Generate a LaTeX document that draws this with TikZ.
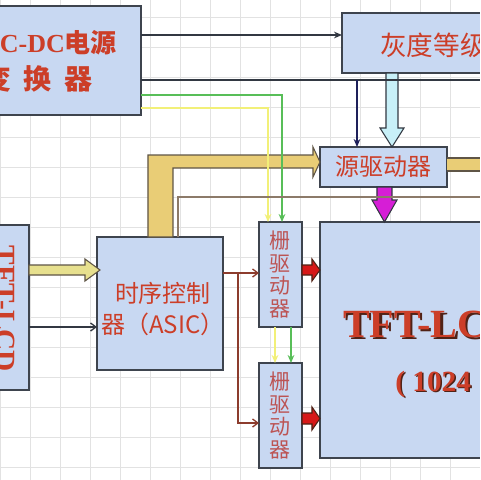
\documentclass[tikz,border=0pt]{standalone}
\usepackage{fontspec}
\setmainfont{Liberation Serif}
\newfontfamily\cjk{Noto Sans CJK SC}
\usepackage{tikz}
\usetikzlibrary{arrows.meta,calc}

\definecolor{boxfill}{RGB}{200,216,242}
\definecolor{boxline}{RGB}{62,68,78}
\definecolor{txtred}{RGB}{204,62,40}
\definecolor{gatered}{RGB}{188,84,84}
\definecolor{shade}{RGB}{80,34,22}
\definecolor{gridgray}{RGB}{226,226,226}
\definecolor{tanfill}{RGB}{233,205,118}
\definecolor{tanline}{RGB}{95,85,70}
\definecolor{khaki}{RGB}{231,224,142}
\definecolor{cyanfill}{RGB}{200,240,248}
\definecolor{magfill}{RGB}{214,30,214}
\definecolor{redfill}{RGB}{214,24,24}
\definecolor{pwrgreen}{RGB}{88,190,88}
\definecolor{pwryellow}{RGB}{242,240,120}
\definecolor{brnline}{RGB}{140,60,45}
\definecolor{busbrown}{RGB}{140,122,105}
\definecolor{navyln}{RGB}{30,32,90}
\definecolor{darkln}{RGB}{50,56,66}

\tikzset{
  blk/.style={draw=boxline,fill=boxfill,line width=1pt,inner sep=0pt,outer sep=0pt,anchor=north west},
  gridln/.style={draw=gridgray,line width=0.5pt},
  fatarrow/.style={line width=0.8pt,line join=miter},
  thinln/.style={line width=1pt},
  tip/.style={-{Stealth[length=6pt,width=5pt]}},
  barb/.style={-{Straight Barb[length=4pt,width=6pt]}}
}

\begin{document}
\begin{tikzpicture}[x=0.75pt,y=0.75pt,yscale=-1,xscale=1]
\useasboundingbox (0,0) rectangle (480,480);
\clip (0,0) rectangle (480,480);
%Background grid
\fill[white] (0,0) rectangle (480,480);
\foreach \gx in {0,30,...,480} \draw[gridln] (\gx,0) -- (\gx,480);
\foreach \gy in {17,47,...,467} \draw[gridln] (0,\gy) -- (480,\gy);

%Shape: Rectangle [power converter]
\node (acdc) [blk,minimum width=135.75pt,minimum height=81.75pt] at (-40,6) {};
%Shape: Rectangle [grey levels]
\node (grey) [blk,minimum width=163.5pt,minimum height=45pt] at (342,13) {};
%Shape: Rectangle [source driver]
\node (src) [blk,minimum width=95.25pt,minimum height=30pt] at (320,147) {};
%Shape: Rectangle [timing controller]
\node (tcon) [blk,minimum width=94.5pt,minimum height=99.75pt] at (97,237) {};
%Shape: Rectangle [input side]
\node (lcd) [blk,minimum width=51.75pt,minimum height=123.75pt] at (-40,225) {};
%Shape: Rectangle [gate drivers]
\node (gate1) [blk,minimum width=32.25pt,minimum height=78.75pt] at (259,222) {};
\node (gate2) [blk,minimum width=32.25pt,minimum height=78.75pt] at (259,363) {};
%Shape: Rectangle [panel]
\node (panel) [blk,minimum width=180pt,minimum height=177pt] at (320,222) {};

%Shape: Bent Arrow [tcon to source driver]
\filldraw[fatarrow,fill=tanfill,draw=tanline] (tcon.north -| 148,0) -- ++(0,-82) -- ++(165,0) -- ++(0,-8)
    -- (src.west |- 0,162) -- ++(-7,15) -- ++(0,-9) -- ++(-140,0) -- ++(0,69) -- cycle;
%Shape: Band [source driver out]
\coordinate (bandR) at (490,158);
\path[fatarrow,fill=tanfill,draw=tanline] (src.east |- 0,158) -- (bandR) -- ++(0,13) -- (src.east |- 0,171);
%Shape: Hollow Arrow [grey levels to source driver]
\filldraw[fatarrow,fill=cyanfill,draw=darkln] (grey.south -| 386,0) -- ++(0,55) -- ++(-6,0)
    -- (src.north -| 392,0) -- ++(12,-19) -- ++(-6,0) -- ++(0,-55) -- cycle;
%Shape: Arrow [source driver to panel]
\filldraw[fatarrow,fill=magfill,draw=darkln] (src.south -| 377,0) -- ++(0,13) -- ++(-5,0)
    -- (panel.north -| 384.5,0) -- ++(12.5,-22) -- ++(-5,0) -- ++(0,-13) -- cycle;
%Shape: Arrow [input to tcon]
\filldraw[fatarrow,fill=khaki,draw=tanline] (lcd.east |- 0,265) -- ++(56,0) -- ++(0,-6)
    -- ($(tcon.west |- 0,270)+(3,0)$) -- ++(-15,11) -- ++(0,-6) -- ++(-56,0) -- cycle;
%Shape: Arrows [gate drivers to panel]
\filldraw[fatarrow,fill=redfill,draw=shade] (gate1.east |- 0,265) -- ++(10,0) -- ++(0,-6)
    -- (panel.west |- 0,270) -- ++(-8,11) -- ++(0,-6) -- ++(-10,0) -- cycle;
\filldraw[fatarrow,fill=redfill,draw=shade] (gate2.east |- 0,413) -- ++(10,0) -- ++(0,-6)
    -- (panel.west |- 0,418.5) -- ++(-8,11.5) -- ++(0,-6) -- ++(-10,0) -- cycle;

%Straight Lines [power lines]
\draw[thinln,darkln,tip] (acdc.east |- 0,35) -- (grey.west |- 0,35);
\coordinate (busR) at (490,80);
\coordinate (tapS) at (357,80);
\draw[thinln,darkln] (acdc.east |- 0,80) -- (busR);
\draw[thinln,navyln,tip] (tapS) -- (src.north -| tapS);
\draw[thinln,pwrgreen,tip] (acdc.east |- 0,95) -| (gate1.north -| 282,0);
\draw[thinln,pwryellow,tip] (acdc.east |- 0,108) -| (gate1.north -| 268,0);
\draw[thinln,pwryellow,tip] (gate1.south -| 275,0) -- (gate2.north -| 275,0);
\draw[thinln,pwrgreen,tip] (gate1.south -| 291,0) -- (gate2.north -| 291,0);
%Straight Lines [control lines]
\coordinate (busC) at (490,197);
\draw[thinln,busbrown] (tcon.north -| 178,0) |- (busC);
\draw[thinln,darkln,barb] (lcd.east |- 0,327) -- (tcon.west |- 0,327);
\coordinate (splitG) at (238,273);
\draw[thinln,brnline,barb] (tcon.east |- splitG) -- (gate1.west |- splitG);
\draw[thinln,brnline,barb] (splitG) |- (gate2.west |- 0,423);

% Text Node
\node (acdcA) [inner sep=0pt,text=txtred,font=\fontsize{19.5pt}{22pt}\selectfont] at (49,43) {\bfseries AC-DC{\cjk\bfseries 电源}};
\node (acdcB) [inner sep=0pt,text=txtred,font=\fontsize{21pt}{24pt}\selectfont] at (38,79) {\cjk\bfseries 变\hspace{0.43em}换\hspace{0.43em}器};
% Text Node
\node (greyT) [anchor=west,inner sep=0pt,text=txtred,font=\fontsize{20pt}{24pt}\selectfont] at (380,45) {\cjk 灰度等级};
% Text Node
\node (srcT) [inner sep=0pt,text=txtred,font=\fontsize{18pt}{22pt}\selectfont] at (src.center) {\cjk 源驱动器};
% Text Node
\node (tconT) [inner sep=0pt,align=center,text=txtred,font=\fontsize{18pt}{23pt}\selectfont] at (163,309) {\cjk 时序控制\\\cjk 器（ASIC）};
% Text Node
\node (lcdT) [inner sep=0pt,rotate=-90,text=txtred,font=\fontsize{22pt}{24pt}\selectfont] at (5.5,309) {\bfseries TFT-LCD};
% Text Node
\node (gate1T) [inner sep=0pt,align=center,text=gatered,font=\fontsize{15.75pt}{16.9pt}\selectfont] at (gate1.center) {\cjk 栅\\\cjk 驱\\\cjk 动\\\cjk 器};
\node (gate2T) [inner sep=0pt,align=center,text=gatered,font=\fontsize{15.75pt}{16.9pt}\selectfont] at (gate2.center) {\cjk 栅\\\cjk 驱\\\cjk 动\\\cjk 器};
% Text Node
\node (panelS) [anchor=west,inner sep=0pt,text=shade,font=\fontsize{30pt}{32pt}\selectfont] at (345.5,326.5) {\bfseries TFT-LCD};
\node (panelT) [anchor=west,inner sep=0pt,text=txtred,font=\fontsize{30pt}{32pt}\selectfont] at (343,324) {\bfseries TFT-LCD};
\node (resS) [anchor=west,inner sep=0pt,text=shade,font=\fontsize{22pt}{24pt}\selectfont] at (396.5,385.5) {\bfseries ( 1024};
\node (resT) [anchor=west,inner sep=0pt,text=txtred,font=\fontsize{22pt}{24pt}\selectfont] at (395,384) {\bfseries ( 1024};
\end{tikzpicture}
\end{document}
